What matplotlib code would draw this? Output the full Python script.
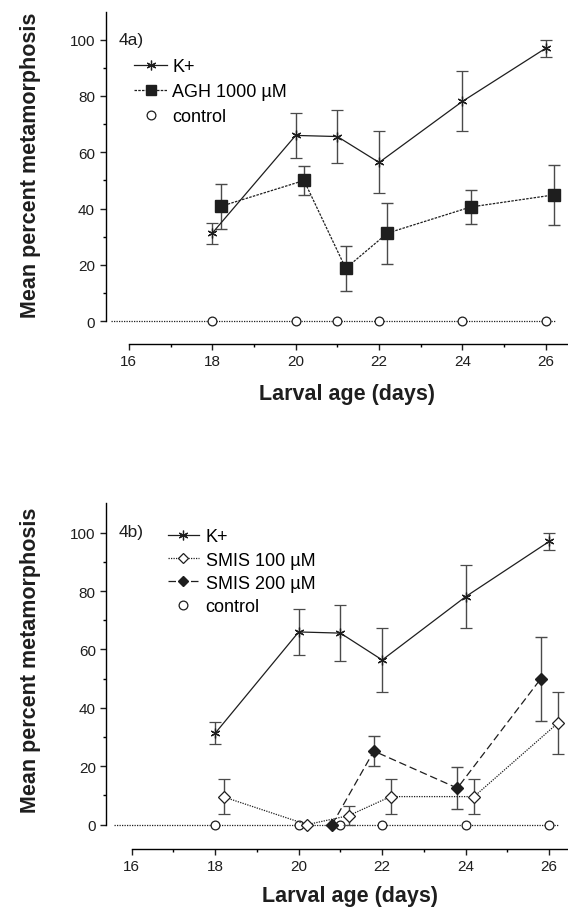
import matplotlib as mpl
import matplotlib.pyplot as plt
from matplotlib.lines import Line2D

# K+ (same in both panels)
K_DAYS = [18, 20, 21, 22, 24, 26]
K_MEAN = [31.3, 66.0, 65.6, 56.4, 78.1, 97.0]
K_ERR = [3.7, 8.0, 9.5, 11.0, 10.7, 3.0]

# panel a: AGH 1000 uM
AGH_DAYS = [18.2, 20.2, 21.2, 22.2, 24.2, 26.2]
AGH_MEAN = [40.8, 50.0, 18.8, 31.3, 40.6, 44.9]
AGH_ERR = [8.0, 5.2, 8.0, 10.8, 5.9, 10.7]

# panel b: SMIS
S100_DAYS = [18.2, 20.2, 21.2, 22.2, 24.2, 26.2]
S100_MEAN = [9.5, 0.0, 3.1, 9.6, 9.6, 34.7]
S100_ERR = [6.0, 0.0, 3.4, 6.0, 6.0, 10.6]

S200_DAYS = [20.8, 21.8, 23.8, 25.8]
S200_MEAN = [0.0, 25.2, 12.5, 50.0]
S200_ERR = [0.0, 5.0, 7.2, 14.4]

CTRL_DAYS = [18, 20, 21, 22, 24, 26]
CTRL_MEAN = [0, 0, 0, 0, 0, 0]

INK = "#1e1e1e"
ERR_C = "#4a4a4a"
W, H = 568, 912

mpl.rcParams.update({
    "font.family": ["Liberation Sans", "DejaVu Sans"],
    "axes.linewidth": 1.0,
})


def style_axes(ax, xlim, ylim):
    ax.set_xlim(*xlim)
    ax.set_ylim(*ylim)
    ax.spines["top"].set_visible(False)
    ax.spines["right"].set_visible(False)
    ax.spines["left"].set_bounds(0, 110)
    ax.spines["bottom"].set_bounds(16, xlim[1])
    ax.set_xticks([16, 18, 20, 22, 24, 26])
    ax.set_xticks([17, 19, 21, 23, 25], minor=True)
    ax.set_yticks([0, 20, 40, 60, 80, 100])
    ax.set_yticks([10, 30, 50, 70, 90], minor=True)
    ax.tick_params(axis="both", which="major", direction="out", length=4.5,
                   width=1.0, labelsize=11, colors=INK, pad=3)
    ax.tick_params(axis="both", which="minor", direction="out", length=2.5, width=1.0)
    ax.set_facecolor("none")


def draw_k(ax):
    ax.errorbar(K_DAYS, K_MEAN, yerr=K_ERR, color=INK, lw=0.9, marker=(6, 2, 0),
                ms=7, mew=0.9, ecolor=ERR_C, elinewidth=1.0, capsize=4, capthick=1.0)


def draw_control(ax):
    ax.hlines(0, 15.58, 26.22, colors=INK, linestyles=(0, (1, 1)), lw=0.9, zorder=1)
    ax.plot(CTRL_DAYS, CTRL_MEAN, ls="none", marker="o", ms=6.3, mfc="white",
            mec=INK, mew=0.9, zorder=3)


fig = plt.figure(figsize=(W / 100, H / 100), dpi=100, facecolor="white")

# ---- panel a ----
ax_a = fig.add_axes([105.5 / W, 1 - 345 / H, 1 - 105.5 / W, (345 - 12.5) / H])
style_axes(ax_a, (15.44, 26.53), (-8.06, 110))
draw_control(ax_a)
draw_k(ax_a)
ax_a.errorbar(AGH_DAYS, AGH_MEAN, yerr=AGH_ERR, color=INK, lw=0.9, ls=(0, (2, 1)),
              marker="s", ms=8, mfc=INK, mec=INK, ecolor=ERR_C, elinewidth=1.0,
              capsize=4, capthick=1.0)
fig.text(119 / W, 1 - 41 / H, "4a)", fontsize=12.5, ha="left", va="center", color=INK)
handles_a = [
    Line2D([], [], color=INK, lw=0.9, marker=(6, 2, 0), ms=7, mew=0.9),
    Line2D([], [], color=INK, lw=0.9, ls=(0, (2, 1)), marker="s", ms=7),
    Line2D([], [], ls="none", marker="o", ms=6.3, mfc="white", mec=INK, mew=0.9),
]
fig.legend(handles_a, ["K+", "AGH 1000 \u00b5M", "control"], loc="upper left",
           bbox_to_anchor=(134 / W, 1 - 59.5 / H), frameon=False, fontsize=13,
           handlelength=1.83, handletextpad=0.3, labelspacing=0.43, borderpad=0,
           borderaxespad=0)
fig.text(31 / W, 1 - 165 / H, "Mean percent metamorphosis", rotation=90,
         fontsize=15.5, fontweight="bold", ha="center", va="center", color=INK)
fig.text(347 / W, 1 - 395 / H, "Larval age (days)", fontsize=15.5,
         fontweight="bold", ha="center", va="center", color=INK)

# ---- panel b ----
ax_b = fig.add_axes([106.2 / W, 1 - 850 / H, 1 - 106.2 / W, (850 - 504.5) / H])
style_axes(ax_b, (15.39, 26.45), (-8.35, 110))
draw_control(ax_b)
draw_k(ax_b)
ax_b.errorbar(S100_DAYS, S100_MEAN, yerr=S100_ERR, color=INK, lw=0.9, ls=(0, (1, 1)),
              marker="D", ms=6, mfc="white", mec=INK, mew=0.9, ecolor=ERR_C,
              elinewidth=1.0, capsize=4, capthick=1.0, zorder=4)
ax_b.errorbar(S200_DAYS, S200_MEAN, yerr=S200_ERR, color=INK, lw=0.9, ls=(0, (6, 3)),
              marker="D", ms=6, mfc=INK, mec=INK, ecolor=ERR_C, elinewidth=1.0,
              capsize=4, capthick=1.0, zorder=4)
fig.text(119 / W, 1 - 533 / H, "4b)", fontsize=12.5, ha="left", va="center", color=INK)
handles_b = [
    Line2D([], [], color=INK, lw=0.9, marker=(6, 2, 0), ms=7, mew=0.9),
    Line2D([], [], color=INK, lw=0.9, ls=(0, (1, 1)), marker="D", ms=5.5, mfc="white",
           mec=INK, mew=0.9),
    Line2D([], [], color=INK, lw=0.9, ls=(0, (6, 3)), marker="D", ms=5.5, mfc=INK, mec=INK),
    Line2D([], [], ls="none", marker="o", ms=6.3, mfc="white", mec=INK, mew=0.9),
]
fig.legend(handles_b, ["K+", "SMIS 100 \u00b5M", "SMIS 200 \u00b5M", "control"],
           loc="upper left", bbox_to_anchor=(167.7 / W, 1 - 529.5 / H), frameon=False,
           fontsize=13, handlelength=1.75, handletextpad=0.35, labelspacing=0.34,
           borderpad=0, borderaxespad=0)
fig.text(31 / W, 1 - 660 / H, "Mean percent metamorphosis", rotation=90,
         fontsize=15.5, fontweight="bold", ha="center", va="center", color=INK)
fig.text(350 / W, 1 - 896.5 / H, "Larval age (days)", fontsize=15.5,
         fontweight="bold", ha="center", va="center", color=INK)

fig.savefig("out.png", dpi=100)
